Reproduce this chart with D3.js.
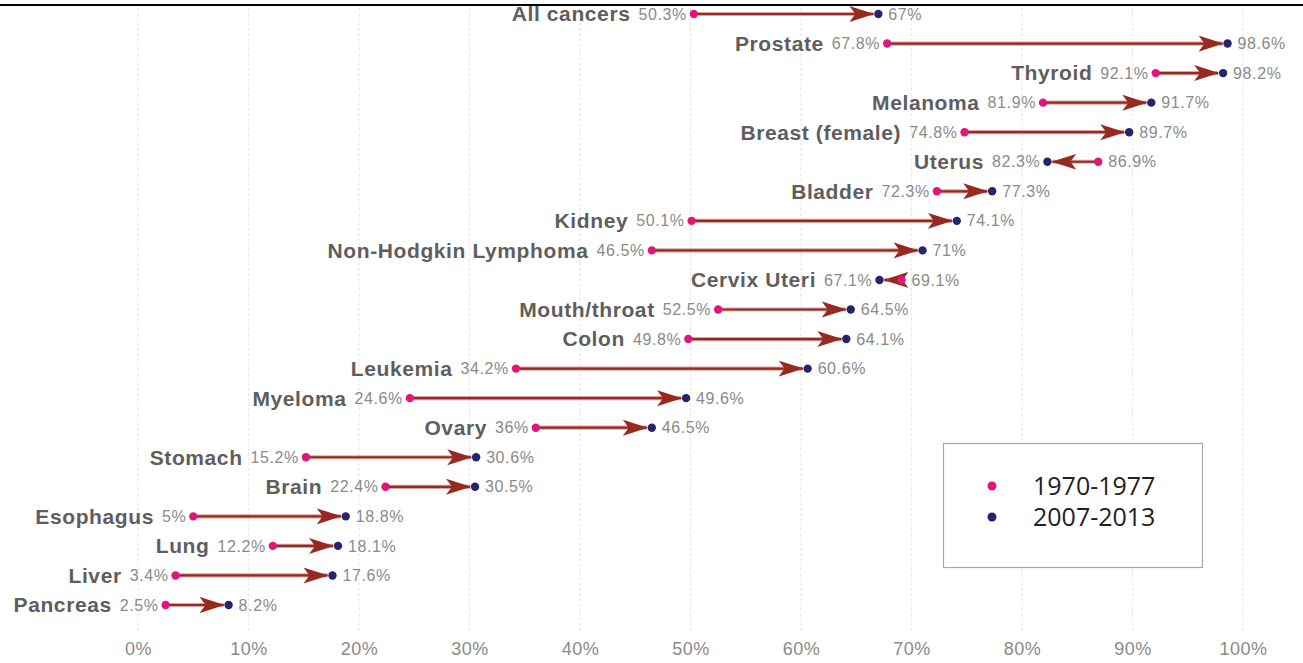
<!DOCTYPE html>
<html>
<head>
<meta charset="utf-8">
<script src="https://cdn.jsdelivr.net/npm/d3@7"></script>
<style>
  html, body { margin: 0; padding: 0; background: #fff; }
  svg { display: block; }
</style>
</head>
<body>
<svg id="chart" width="1303" height="663"></svg>
<script>
const categories = ["All cancers", "Prostate", "Thyroid", "Melanoma", "Breast (female)", "Uterus", "Bladder", "Kidney", "Non-Hodgkin Lymphoma", "Cervix Uteri", "Mouth/throat", "Colon", "Leukemia", "Myeloma", "Ovary", "Stomach", "Brain", "Esophagus", "Lung", "Liver", "Pancreas"];
const survival1970 = [50.3, 67.8, 92.1, 81.9, 74.8, 86.9, 72.3, 50.1, 46.5, 69.1, 52.5, 49.8, 34.2, 24.6, 36, 15.2, 22.4, 5, 12.2, 3.4, 2.5];
const survival2007 = [67, 98.6, 98.2, 91.7, 89.7, 82.3, 77.3, 74.1, 71, 67.1, 64.5, 64.1, 60.6, 49.6, 46.5, 30.6, 30.5, 18.8, 18.1, 17.6, 8.2];
const tickValues = [0, 10, 20, 30, 40, 50, 60, 70, 80, 90, 100];
const seriesNames = ["1970-1977", "2007-2013"];

const colors = { early: "#e0177a", late: "#27246e", arrow: "#962a20" };

const svg = d3.select("#chart");
const x = d3.scaleLinear().domain([0, 100]).range([138, 1243]);
const y = d3.scalePoint().domain(categories).range([14, 605]);

const rows = categories.map((c, i) => ({ name: c, a: survival1970[i], b: survival2007[i] }));

// top rule
svg.append("line").attr("x1", 0).attr("x2", 1303).attr("y1", 5).attr("y2", 5)
  .attr("stroke", "#000").attr("stroke-width", 1.8);

// gridlines
svg.append("g").selectAll("line").data(tickValues).join("line")
  .attr("x1", d => x(d)).attr("x2", d => x(d))
  .attr("y1", 8).attr("y2", 632)
  .attr("stroke", "#e8e8e8").attr("stroke-width", 1.2)
  .attr("stroke-dasharray", "3,2");

// x axis labels
const xAxis = d3.axisBottom(x).tickValues(tickValues).tickFormat(d => d + "%").tickSize(0).tickPadding(0);
const gx = svg.append("g").attr("transform", "translate(0,642)").call(xAxis);
gx.select(".domain").remove();
gx.selectAll("text").attr("font-family", "Liberation Sans, Arial, sans-serif")
  .attr("font-size", 18).attr("fill", "#8a8a8a").attr("letter-spacing", 0.5);

// arrow marker
const defs = svg.append("defs");
defs.append("marker").attr("id", "arrow")
  .attr("markerUnits", "userSpaceOnUse")
  .attr("viewBox", "0 -9 26 18")
  .attr("markerWidth", 26).attr("markerHeight", 18)
  .attr("refX", 24).attr("refY", 0)
  .attr("orient", "auto")
  .append("path").attr("d", "M0,-8 L25,0 L0,8 L6,0 Z").attr("fill", colors.arrow);

const g = svg.append("g");
rows.forEach(r => {
  const yy = y(r.name);
  const xa = x(r.a), xb = x(r.b);
  const dir = xb >= xa ? 1 : -1;
  g.append("line").attr("x1", xa).attr("x2", xb - dir * 5).attr("y1", yy).attr("y2", yy)
    .attr("stroke", "#dba5a5").attr("stroke-width", 4.2);
  g.append("line").attr("x1", xa).attr("x2", xb - dir * 5).attr("y1", yy).attr("y2", yy)
    .attr("stroke", colors.arrow).attr("stroke-width", 2.2)
    .attr("marker-end", "url(#arrow)");
  g.append("circle").attr("cx", xa).attr("cy", yy).attr("r", 4.2).attr("fill", colors.early);
  g.append("circle").attr("cx", xb).attr("cy", yy).attr("r", 4.2).attr("fill", colors.late);

  const leftX = Math.min(xa, xb), rightX = Math.max(xa, xb);
  const leftVal = Math.min(r.a, r.b), rightVal = Math.max(r.a, r.b);
  const lv = g.append("text").attr("x", leftX - 7).attr("y", yy).attr("dy", "0.35em")
    .attr("text-anchor", "end")
    .attr("font-family", "Liberation Sans, Arial, sans-serif")
    .attr("font-size", 16).attr("letter-spacing", 0.6).attr("fill", "#8a8a8a")
    .text(leftVal + "%");
  const w = lv.node().getComputedTextLength();
  g.append("text").attr("x", leftX - 7 - w - 8).attr("y", yy).attr("dy", "0.35em")
    .attr("text-anchor", "end")
    .attr("font-family", "Liberation Sans, Arial, sans-serif")
    .attr("font-size", 21).attr("font-weight", "bold").attr("letter-spacing", 0.6)
    .attr("fill", "#5e5e5e")
    .text(r.name);
  g.append("text").attr("x", rightX + 10).attr("y", yy).attr("dy", "0.35em")
    .attr("font-family", "Liberation Sans, Arial, sans-serif")
    .attr("font-size", 16).attr("letter-spacing", 0.6).attr("fill", "#8a8a8a")
    .text(rightVal + "%");
});

// legend
const lg = svg.append("g");
lg.append("rect").attr("x", 943.5).attr("y", 443.5).attr("width", 259).attr("height", 124)
  .attr("fill", "#fff").attr("stroke", "#a8a8a8").attr("stroke-width", 1.2);
[colors.early, colors.late].forEach((c, i) => {
  const ly = 486 + i * 31;
  lg.append("circle").attr("cx", 992).attr("cy", ly).attr("r", 4.5).attr("fill", c);
  lg.append("text").attr("x", 1033).attr("y", ly).attr("dy", "0.35em")
    .attr("font-family", "Open Sans, Noto Sans, sans-serif")
    .attr("font-size", 25).attr("fill", "#222")
    .text(seriesNames[i]);
});
</script>
</body>
</html>
